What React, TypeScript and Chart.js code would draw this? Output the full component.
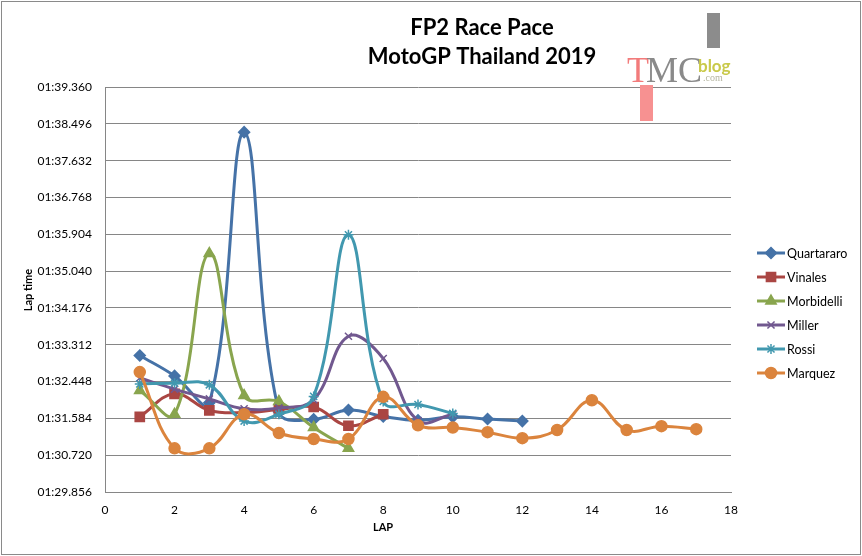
import React, { useEffect, useRef } from 'react';
import { Chart, registerables } from 'chart.js';
import { drawPoint } from 'chart.js/helpers';

Chart.register(...registerables);

// lap times in seconds
const riders = ['Quartararo', 'Vinales', 'Morbidelli', 'Miller', 'Rossi', 'Marquez'];
const quartararo = [93.06, 92.58, 91.95, 98.30, 91.74, 91.56, 91.78, 91.63, 91.54, 91.62, 91.57, 91.52];
const vinales = [91.62, 92.16, 91.77, 91.72, 91.79, 91.85, 91.41, 91.68];
const morbidelli = [92.24, 91.68, 95.45, 92.12, 91.98, 91.37, 90.88];
const miller = [92.53, 92.27, 92.04, 91.81, 91.83, 92.02, 93.51, 92.99, 91.53, 91.68];
const rossi = [92.39, 92.41, 92.37, 91.52, 91.68, 92.10, 95.89, 91.98, 91.91, 91.70];
const marquez = [92.67, 90.88, 90.88, 91.68, 91.24, 91.10, 91.10, 92.09, 91.42, 91.37, 91.26, 91.12, 91.31, 92.01, 91.31, 91.40, 91.33];
const series = [quartararo, vinales, morbidelli, miller, rossi, marquez];

const colors = ['#4572A7', '#AA4643', '#89A54E', '#71588F', '#4198AF', '#DB843D'];
const markers = ['rectRot', 'rect', 'triangle', 'crossRot', 'star', 'circle'];
const markerSize = [5.5, 6.5, 6, 5, 5, 5.5];

const yTicks = [89.856, 90.72, 91.584, 92.448, 93.312, 94.176, 95.04, 95.904, 96.768, 97.632, 98.496, 99.36];
const xTicks = [0, 2, 4, 6, 8, 10, 12, 14, 16, 18];

const FONT = 'Lato, "Open Sans", sans-serif';

const fmt = (s: number) => {
  const m = Math.floor(s / 60);
  const r = s - m * 60;
  return `${String(m).padStart(2, '0')}:${r.toFixed(3).padStart(6, '0')}`;
};

// everything Excel draws around the plot: frame, titles, legend, watermark
const decorations = {
  id: 'decorations',
  beforeDraw(chart: Chart) {
    const { ctx, width, height } = chart;
    ctx.save();
    ctx.fillStyle = '#ffffff';
    ctx.fillRect(0, 0, width, height);
    ctx.strokeStyle = '#8a8a8a';
    ctx.lineWidth = 1;
    ctx.strokeRect(1.5, 1.5, width - 3, height - 3);
    ctx.restore();
  },
  afterDraw(chart: Chart) {
    const { ctx } = chart;
    ctx.save();
    ctx.fillStyle = '#000';
    ctx.textAlign = 'center';
    ctx.textBaseline = 'middle';
    ctx.font = `bold 22px ${FONT}`;
    ctx.fillText('FP2 Race Pace', 482, 28);
    ctx.fillText('MotoGP Thailand 2019', 482, 57);

    ctx.font = `bold 11px ${FONT}`;
    ctx.fillText('LAP', 383, 527);
    ctx.save();
    ctx.translate(28, 290);
    ctx.rotate(-Math.PI / 2);
    ctx.fillText('Lap time', 0, 0);
    ctx.restore();

    // legend
    ctx.textAlign = 'left';
    ctx.font = `12.5px ${FONT}`;
    riders.forEach((name, i) => {
      const y = 253 + i * 24;
      ctx.strokeStyle = colors[i];
      ctx.lineWidth = 3;
      ctx.beginPath();
      ctx.moveTo(757, y);
      ctx.lineTo(785, y);
      ctx.stroke();
      ctx.fillStyle = colors[i];
      ctx.strokeStyle = colors[i];
      ctx.lineWidth = 1.5;
      drawPoint(ctx, { pointStyle: markers[i] as any, radius: markerSize[i], rotation: 0, borderWidth: 1.5 }, 771, y);
      ctx.fillStyle = '#000';
      ctx.fillText(name, 787, y + 1);
    });

    // TMC blog watermark
    ctx.fillStyle = '#8c8c8c';
    ctx.fillRect(707, 13, 13, 35);
    ctx.fillStyle = '#f79191';
    ctx.fillRect(640, 85, 13, 36);
    ctx.textBaseline = 'alphabetic';
    ctx.font = '36px "Liberation Serif", serif';
    ctx.fillStyle = '#f27b7b';
    ctx.fillText('T', 627, 82);
    ctx.fillStyle = '#8a8a8a';
    ctx.fillText('MC', 646, 82);
    ctx.font = `bold 17px ${FONT}`;
    ctx.fillStyle = '#c9c94a';
    ctx.fillText('blog', 698, 72);
    ctx.font = '10px "Liberation Serif", serif';
    ctx.fillStyle = '#b5b5a0';
    ctx.fillText('.com', 703, 81);
    ctx.restore();
  },
};

const App: React.FC = () => {
  const chartRef = useRef<HTMLCanvasElement>(null);
  const chartInstance = useRef<Chart | null>(null);

  useEffect(() => {
    document.body.style.margin = '0';
    if (!chartRef.current) return;
    if (chartInstance.current) chartInstance.current.destroy();

    chartInstance.current = new Chart(chartRef.current, {
      type: 'line',
      data: {
        datasets: riders.map((name, i) => ({
          label: name,
          data: series[i].map((v, lap) => ({ x: lap + 1, y: v })),
          borderColor: colors[i],
          backgroundColor: colors[i],
          borderWidth: 3,
          tension: 0.4,
          pointStyle: markers[i] as any,
          pointRadius: markerSize[i],
          pointBorderWidth: 1.5,
          pointBackgroundColor: colors[i],
          pointBorderColor: colors[i],
          order: -i,
        })),
      },
      options: {
        animation: false,
        responsive: false,
        layout: { padding: { top: 87, right: 131, left: 0, bottom: 0 } },
        plugins: {
          legend: { display: false },
          title: { display: false },
          tooltip: { enabled: false },
        },
        scales: {
          x: {
            type: 'linear',
            min: 0,
            max: 18,
            afterFit: (scale: any) => { scale.height = 64; },
            afterBuildTicks: (scale: any) => { scale.ticks = xTicks.map((v) => ({ value: v })); },
            grid: { display: false, drawTicks: false },
            border: { display: true, color: '#868686', width: 1 },
            ticks: { color: '#000', padding: 11, font: { family: FONT, size: 12 } },
          },
          y: {
            type: 'linear',
            min: yTicks[0],
            max: yTicks[yTicks.length - 1],
            afterFit: (scale: any) => { scale.width = 105; },
            afterBuildTicks: (scale: any) => { scale.ticks = yTicks.map((v) => ({ value: v })); },
            grid: { color: '#868686', lineWidth: 1, drawTicks: false },
            border: { display: true, color: '#868686', width: 1 },
            ticks: {
              color: '#000',
              padding: 13,
              font: { family: FONT, size: 12 },
              callback: (v: any) => fmt(Number(v)),
            },
          },
        },
      },
      plugins: [decorations],
    });

    return () => {
      if (chartInstance.current) {
        chartInstance.current.destroy();
        chartInstance.current = null;
      }
    };
  }, []);

  return (
    <div style={{ width: 862, height: 556 }}>
      <canvas ref={chartRef} width={862} height={556} style={{ display: 'block' }}></canvas>
    </div>
  );
};

export default App;
